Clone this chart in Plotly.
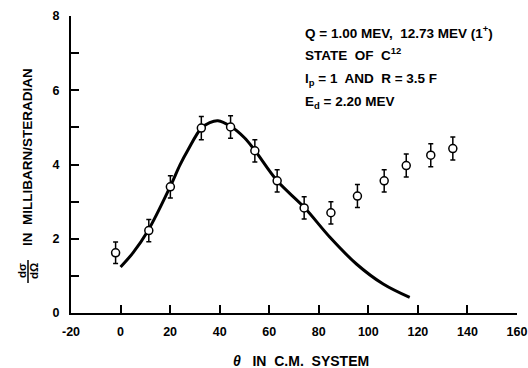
import plotly.graph_objects as go

# Measured points (theta in C.M. system, cross-section in mb/sr)
theta_data = [-2.0, 11.4, 20.1, 32.6, 44.4, 54.2, 63.2, 74.1, 84.9, 95.6, 106.4, 115.3, 125.2, 134.1]
sigma_data = [1.62, 2.22, 3.40, 4.98, 5.01, 4.37, 3.56, 2.83, 2.70, 3.15, 3.56, 3.97, 4.25, 4.43]
sigma_err = [0.29, 0.30, 0.30, 0.31, 0.30, 0.30, 0.30, 0.30, 0.30, 0.31, 0.30, 0.31, 0.31, 0.31]

# Theoretical curve (lp = 1, R = 3.5 F)
theta_curve = [0, 5, 11, 20, 24, 27.2, 32.6, 36, 39.3, 44.4, 50, 54.3, 63.2, 74.2, 84.5, 95.2, 106, 116.7]
sigma_curve = [1.24, 1.62, 2.21, 3.40, 3.99, 4.39, 4.98, 5.13, 5.18, 5.03, 4.72, 4.37, 3.56, 2.84, 2.04, 1.32, 0.78, 0.42]

x_ticks = [-20, 0, 20, 40, 60, 80, 100, 120, 140, 160]
x_labels = ["-20", "0", "20", "40", "60", "80", "100", "120", "140", "160"]
y_ticks = [0, 1, 2, 3, 4, 5, 6, 7, 8]
y_labels = ["0", "", "2", "", "4", "", "6", "", "8"]

FONT = "Liberation Sans"

fig = go.Figure()
fig.add_trace(go.Scatter(
    x=theta_curve, y=sigma_curve, mode="lines",
    line=dict(color="black", width=3, shape="spline", smoothing=1.0),
    hoverinfo="skip", showlegend=False,
))
fig.add_trace(go.Scatter(
    x=theta_data, y=sigma_data, mode="markers",
    marker=dict(symbol="circle", size=8, color="white", line=dict(color="black", width=1.5)),
    error_y=dict(type="data", array=sigma_err, visible=True, color="black", thickness=1.5, width=2.5),
    showlegend=False,
))

# plot area geometry in pixels
L, R, T, B = 71, 11, 16, 55
W, H = 528, 368
pw, ph = W - L - R, H - T - B

def px_x(px):
    return (px - L) / pw

def px_y(py):
    return (H - B - py) / ph

notes = [
    ("Q = 1.00 MEV,  12.73 MEV (1<sup>+</sup>)", 32),
    ("STATE  OF  C<sup>12</sup>", 54),
    ("l<sub>p</sub> = 1  AND  R = 3.5 F", 79),
    ("E<sub>d</sub> = 2.20 MEV", 102),
]
annotations = []
for txt, py in notes:
    annotations.append(dict(
        text=txt, xref="paper", yref="paper", x=px_x(303), y=px_y(py),
        xanchor="left", yanchor="middle", showarrow=False,
        font=dict(family=FONT, size=13.5, color="black", weight="bold"),
    ))

# y axis title
annotations.append(dict(
    text="IN  MILLIBARN/STERADIAN", xref="paper", yref="paper",
    x=px_x(28), y=px_y(157), xanchor="center", yanchor="middle",
    textangle=-90, showarrow=False,
    font=dict(family=FONT, size=13.5, color="black", weight="bold"),
))
annotations.append(dict(
    text="dσ", xref="paper", yref="paper",
    x=px_x(22), y=px_y(271), xanchor="center", yanchor="middle",
    textangle=-90, showarrow=False,
    font=dict(family=FONT, size=11.5, color="black", weight="bold"),
))
annotations.append(dict(
    text="dΩ", xref="paper", yref="paper",
    x=px_x(34), y=px_y(271), xanchor="center", yanchor="middle",
    textangle=-90, showarrow=False,
    font=dict(family=FONT, size=11.5, color="black", weight="bold"),
))
# x axis title
annotations.append(dict(
    text="<i>θ</i>   IN  C.M.  SYSTEM", xref="paper", yref="paper",
    x=px_x(301), y=px_y(361), xanchor="center", yanchor="middle",
    showarrow=False,
    font=dict(family=FONT, size=14, color="black", weight="bold"),
))

shapes = [dict(
    type="line", xref="paper", yref="paper",
    x0=px_x(28), x1=px_x(28), y0=px_y(260), y1=px_y(283),
    line=dict(color="black", width=1.5),
)]

fig.update_layout(
    width=W, height=H, autosize=False,
    margin=dict(l=L, r=R, t=T, b=B, pad=0),
    plot_bgcolor="white", paper_bgcolor="white",
    font=dict(family=FONT, size=12, color="black", weight="bold"),
    annotations=annotations, shapes=shapes,
    showlegend=False,
)
fig.update_xaxes(
    range=[-20, 160], tickmode="array", tickvals=x_ticks, ticktext=x_labels,
    ticks="inside", ticklen=8, tickwidth=2, tickcolor="black",
    showline=True, linecolor="black", linewidth=2,
    showgrid=False, zeroline=False, ticklabelstandoff=6,
    ticklabeloverflow="allow", automargin=False,
    tickfont=dict(family=FONT, size=12.5, color="black", weight="bold"),
)
fig.update_yaxes(
    range=[0, 8], tickmode="array", tickvals=y_ticks, ticktext=y_labels,
    ticks="inside", ticklen=8, tickwidth=2, tickcolor="black",
    showline=True, linecolor="black", linewidth=2,
    showgrid=False, zeroline=False, ticklabelstandoff=7,
    ticklabeloverflow="allow", automargin=False,
    tickfont=dict(family=FONT, size=12.5, color="black", weight="bold"),
)

fig.write_html("out.html")
